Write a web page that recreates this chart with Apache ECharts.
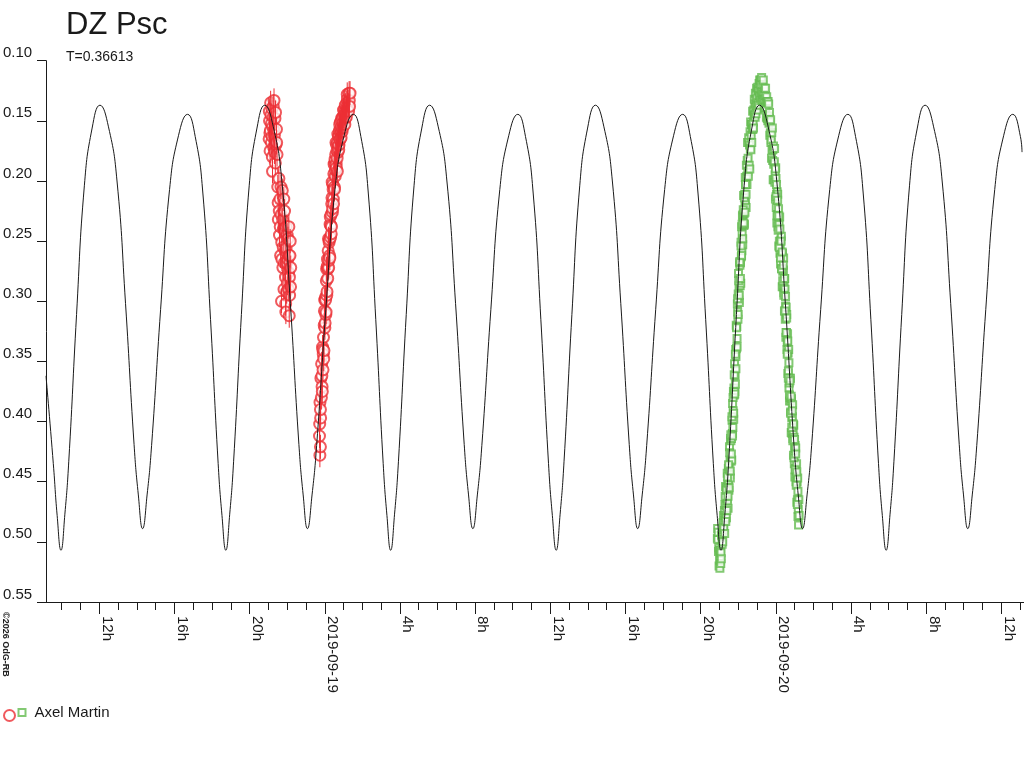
<!DOCTYPE html>
<html><head><meta charset="utf-8">
<script src="https://cdn.jsdelivr.net/npm/echarts@6/dist/echarts.min.js"></script>
<style>html,body{margin:0;padding:0;background:#fff}#c{width:1024px;height:768px}</style>
</head><body><div id="c"></div>
<script>
// hours counted from 2019-09-18 00:00
const modelCurve = [
[9.167,0.362],[9.556,0.435],[9.760,0.478],[9.964,0.507],[10.171,0.477],[10.379,0.433],[10.793,0.311],[11.208,0.204],[11.622,0.156],[12.037,0.137],
[12.491,0.155],[12.945,0.200],[13.399,0.302],[13.853,0.419],[14.080,0.461],[14.307,0.489],[14.546,0.461],[14.785,0.420],[15.264,0.307],[15.742,0.207],
[16.221,0.162],[16.699,0.1446],[17.106,0.163],[17.513,0.210],[17.921,0.315],[18.328,0.435],[18.531,0.478],[18.735,0.507],[18.942,0.477],[19.150,0.433],
[19.564,0.311],[19.979,0.204],[20.393,0.156],[20.808,0.137],[21.262,0.155],[21.716,0.200],[22.170,0.302],[22.624,0.419],[22.851,0.461],[23.078,0.489],
[23.323,0.461],[23.567,0.420],[24.056,0.307],[24.545,0.207],[25.034,0.162],[25.523,0.1446],[25.920,0.163],[26.316,0.210],[26.713,0.315],[27.109,0.435],
[27.308,0.478],[27.506,0.507],[27.713,0.477],[27.921,0.433],[28.335,0.311],[28.750,0.204],[29.164,0.156],[29.579,0.137],[30.039,0.155],[30.499,0.200],
[30.960,0.302],[31.420,0.419],[31.650,0.461],[31.880,0.489],[32.119,0.461],[32.358,0.420],[32.837,0.307],[33.315,0.207],[33.794,0.162],[34.272,0.1446],
[34.680,0.163],[35.089,0.210],[35.497,0.315],[35.906,0.435],[36.110,0.478],[36.314,0.507],[36.523,0.477],[36.732,0.433],[37.150,0.311],[37.567,0.204],
[37.985,0.156],[38.403,0.137],[38.853,0.155],[39.302,0.200],[39.752,0.302],[40.201,0.419],[40.426,0.461],[40.651,0.489],[40.890,0.461],[41.129,0.420],
[41.608,0.307],[42.086,0.207],[42.565,0.162],[43.043,0.1446],[43.451,0.163],[43.859,0.210],[44.268,0.315],[44.676,0.435],[44.880,0.478],[45.084,0.507],
[45.289,0.477],[45.494,0.433],[45.905,0.311],[46.315,0.204],[46.726,0.156],[47.136,0.137],[47.593,0.155],[48.050,0.200],[48.508,0.302],[48.965,0.419],
[49.193,0.461],[49.422,0.489],[49.663,0.461],[49.905,0.420],[50.387,0.307],[50.870,0.207],[51.352,0.162],[51.835,0.1446],[52.242,0.163],[52.649,0.210],
[53.057,0.315],[53.464,0.435],[53.667,0.478],[53.871,0.507],[54.078,0.477],[54.285,0.433],[54.700,0.311],[55.114,0.204],[55.529,0.156],[55.943,0.137],
[56.397,0.155],[56.851,0.200],[57.306,0.302],[57.760,0.419],[57.987,0.461],[58.214,0.489],[58.453,0.461],[58.692,0.420],[59.171,0.307],[59.649,0.207],
[60.128,0.162],[60.606,0.1446],[61.014,0.163],[61.100,0.176]
];

// first night (circles)
const redObs = [
[21.04,.165],[21.05,.142],[21.06,.150],[21.08,.160],[21.09,.175],[21.11,.158],[21.12,.135],[21.14,.145],[21.16,.168],[21.17,.152],
[21.19,.140],[21.20,.163],[21.21,.180],[21.22,.192],[21.23,.155],[21.25,.147],[21.26,.138],[21.28,.172],[21.29,.158],[21.30,.133],
[21.32,.162],[21.33,.176],[21.35,.148],[21.37,.185],[21.38,.143],[21.40,.170],[21.43,.157],[21.44,.168],[21.46,.178],
[21.50,.205],[21.52,.218],[21.53,.232],[21.56,.198],[21.58,.225],[21.59,.245],[21.62,.215],[21.63,.238],[21.65,.262],[21.67,.205],
[21.68,.228],[21.70,.300],[21.71,.251],[21.72,.265],[21.74,.208],[21.76,.232],[21.77,.272],[21.79,.255],[21.80,.240],[21.82,.215],
[21.83,.290],[21.85,.268],[21.86,.225],[21.88,.242],[21.89,.258],[21.91,.280],[21.92,.302],[21.93,.309],[21.94,.256],[21.95,.238],
[21.97,.292],[21.98,.268],[22.00,.245],[22.01,.285],[22.03,.265],[22.04,.248],[22.06,.290],[22.07,.276],[22.09,.238],[22.10,.262],
[22.11,.312],[22.12,.280],[22.13,.295],[22.15,.262],[22.16,.250],[22.18,.288],[22.19,.272],
[23.73,.402],[23.74,.428],[23.77,.421],[23.78,.397],
[23.720,.412],[23.745,.384],[23.770,.390],[23.795,.364],[23.820,.380],[23.8325,.352],[23.845,.362],[23.8575,.371],[23.870,.375],[23.8825,.338],
[23.895,.340],[23.9075,.357],[23.920,.344],[23.9325,.330],[23.945,.348],[23.9575,.341],[23.970,.320],[23.9825,.308],[23.995,.299],[24.0075,.322],
[24.020,.318],[24.0325,.297],[24.045,.299],[24.0575,.311],[24.070,.309],[24.0825,.283],[24.095,.273],[24.1075,.295],[24.120,.292],[24.1325,.271],
[24.145,.265],[24.1575,.281],[24.170,.273],[24.1825,.258],[24.195,.248],[24.2075,.272],[24.220,.266],[24.2325,.251],[24.245,.249],[24.2575,.262],
[24.270,.264],[24.2825,.236],[24.295,.230],[24.3075,.247],[24.320,.237],[24.3325,.228],[24.345,.244],[24.3575,.238],[24.370,.219],[24.3825,.214],
[24.395,.201],[24.4075,.226],[24.420,.223],[24.4325,.203],[24.445,.207],[24.4575,.215],[24.470,.219],[24.4825,.194],[24.495,.186],[24.5075,.205],
[24.520,.207],[24.5325,.185],[24.545,.182],[24.5575,.196],[24.570,.191],[24.5825,.178],[24.595,.168],[24.6075,.186],[24.620,.189],[24.6325,.170],
[24.645,.175],[24.6575,.181],[24.670,.192],[24.6825,.168],[24.695,.161],[24.7075,.176],[24.720,.171],[24.7325,.163],[24.745,.174],[24.7575,.170],
[24.770,.162],[24.7825,.158],[24.795,.153],[24.8075,.166],[24.820,.165],[24.8325,.151],[24.845,.157],[24.8575,.160],[24.870,.164],[24.8825,.155],
[24.895,.148],[24.9075,.150],[24.920,.159],[24.945,.147],[24.9575,.156],[24.970,.152],[24.995,.141],[25.0075,.146],[25.020,.151],[25.045,.144],
[25.0575,.140],[25.070,.153],[25.095,.137],[25.1075,.147],[25.120,.142],[25.145,.147],[25.1575,.139],[25.170,.135],[25.195,.128],[25.2075,.132],
[25.220,.141],[25.245,.134],[25.2575,.137],[25.270,.142],[25.295,.127],[25.3075,.133],[25.320,.138],[25.345,.127]
];
const redError = 0.010;

// second night (squares)
const greenObs = [
[44.89,.497],[44.905,.489],[44.92,.498],[44.935,.492],[44.95,.508],[44.965,.505],[44.98,.520],[44.995,.507],[45.01,.515],[45.025,.522],
[45.04,.515],[45.055,.507],[45.07,.518],[45.085,.509],[45.10,.514],[45.115,.495],[45.13,.494],[45.145,.502],[45.16,.492],[45.175,.500],
[45.19,.484],[45.205,.490],[45.22,.478],[45.235,.488],[45.25,.482],[45.265,.474],[45.28,.493],[45.295,.469],[45.31,.478],[45.325,.454],
[45.34,.480],[45.355,.470],[45.37,.480],[45.385,.455],[45.40,.464],[45.415,.443],[45.43,.466],[45.445,.452],[45.46,.472],[45.475,.439],
[45.49,.449],[45.505,.457],[45.52,.437],[45.535,.421],[45.55,.444],[45.565,.432],[45.58,.447],[45.595,.414],[45.61,.416],[45.625,.433],
[45.64,.414],[45.655,.432],[45.67,.399],[45.685,.410],[45.70,.385],[45.715,.405],[45.73,.391],[45.745,.375],[45.76,.398],[45.775,.372],
[45.79,.378],[45.805,.352],[45.82,.375],[45.835,.362],[45.85,.369],[45.865,.340],[45.88,.346],[45.895,.320],[45.91,.339],[45.925,.321],
[45.94,.338],[45.955,.302],[45.97,.309],[45.985,.315],[46.00,.294],[46.015,.277],[46.03,.299],[46.045,.287],[46.06,.301],[46.075,.268],
[46.09,.270],[46.105,.287],[46.12,.268],[46.135,.285],[46.15,.251],[46.165,.263],[46.18,.238],[46.195,.258],[46.21,.244],[46.225,.229],
[46.24,.253],[46.255,.228],[46.27,.236],[46.285,.212],[46.30,.237],[46.315,.227],[46.33,.236],[46.345,.211],[46.36,.221],[46.375,.197],
[46.39,.218],[46.405,.203],[46.42,.222],[46.435,.187],[46.45,.196],[46.465,.203],[46.48,.183],[46.495,.168],[46.51,.192],[46.525,.181],
[46.54,.196],[46.555,.164],[46.57,.168],[46.585,.187],[46.60,.170],[46.615,.190],[46.63,.159],[46.645,.173],[46.66,.151],[46.675,.174],
[46.69,.162],[46.705,.153],[46.72,.168],[46.735,.153],[46.75,.157],[46.765,.142],[46.78,.157],[46.795,.151],[46.81,.156],[46.825,.141],
[46.84,.146],[46.855,.132],[46.87,.145],[46.885,.136],[46.90,.147],[46.915,.127],[46.93,.139],[46.945,.144],[46.96,.132],[46.975,.123],
[46.99,.137],[47.005,.131],[47.02,.141],[47.035,.122],[47.05,.124],[47.065,.135],[47.08,.125],[47.095,.137],[47.11,.119],[47.125,.129],
[47.14,.116],[47.155,.130],[47.17,.123],[47.185,.116],[47.20,.133],[47.215,.120],[47.23,.126],[47.245,.114],[47.26,.131],[47.275,.126],
[47.29,.133],[47.305,.120],[47.32,.128],[47.335,.116],[47.35,.132],[47.365,.126],[47.38,.140],[47.395,.123],[47.41,.132],[47.425,.139],
[47.44,.129],[47.455,.123],[47.47,.139],[47.485,.135],[47.50,.147],[47.515,.130],[47.53,.134],[47.545,.148],[47.56,.135],[47.575,.150],
[47.59,.134],[47.605,.146],[47.62,.136],[47.635,.152],[47.65,.148],[47.665,.143],[47.68,.162],[47.695,.151],[47.71,.160],[47.725,.149],
[47.74,.168],[47.755,.166],[47.77,.181],[47.785,.160],[47.80,.174],[47.815,.156],[47.83,.183],[47.845,.174],[47.86,.199],[47.875,.171],
[47.89,.186],[47.905,.199],[47.92,.184],[47.935,.173],[47.95,.201],[47.965,.195],[47.98,.215],[47.995,.189],[48.01,.198],[48.025,.222],
[48.04,.211],[48.055,.235],[48.07,.209],[48.085,.228],[48.10,.211],[48.115,.238],[48.13,.231],[48.145,.223],[48.16,.254],[48.175,.236],
[48.19,.250],[48.205,.230],[48.22,.260],[48.235,.255],[48.25,.269],[48.265,.249],[48.28,.263],[48.295,.246],[48.31,.273],[48.325,.263],
[48.34,.288],[48.355,.260],[48.37,.275],[48.385,.288],[48.40,.274],[48.415,.264],[48.43,.293],[48.445,.287],[48.46,.308],[48.475,.281],
[48.49,.290],[48.505,.315],[48.52,.304],[48.535,.330],[48.55,.305],[48.565,.326],[48.58,.311],[48.595,.340],[48.61,.334],[48.625,.327],
[48.64,.360],[48.655,.343],[48.67,.358],[48.685,.340],[48.70,.372],[48.715,.368],[48.73,.383],[48.745,.364],[48.76,.380],[48.775,.364],
[48.79,.392],[48.805,.383],[48.82,.409],[48.835,.381],[48.85,.397],[48.865,.410],[48.88,.396],[48.895,.386],[48.91,.414],[48.925,.408],
[48.94,.428],[48.955,.403],[48.97,.413],[48.985,.435],[49.00,.422],[49.015,.446],[49.03,.420],[49.045,.439],[49.06,.422],[49.075,.450],
[49.09,.443],[49.105,.435],[49.12,.467],[49.135,.450],[49.15,.465],[49.165,.447],[49.18,.479],[49.195,.473],[49.21,.486],[49.225,.465],
[49.24,.478],
[45.3075,.462],[45.3375,.483],[45.3675,.457],[45.3975,.474],[45.4275,.446],[45.4575,.462],[45.4875,.436],[45.5175,.455],[45.5475,.426],[45.5775,.441],
[45.6075,.411],[45.6375,.427],[45.6675,.396],[45.6975,.412],[45.7275,.380],[45.7575,.393],[45.7875,.361],[45.8175,.377],[45.8475,.344],[45.8775,.356],
[45.9075,.322],[45.9375,.331],[45.9675,.298],[45.9975,.311],[46.0275,.283],[46.0575,.295],[46.0875,.267],[46.1175,.281],[46.1475,.254],[46.1775,.262],
[46.2075,.236],[46.2375,.248],[46.2675,.224],[46.2975,.235],[46.3275,.214],[46.3575,.226],[46.3875,.203],[46.4175,.211],
[47.9775,.190],[48.0075,.213],[48.0375,.203],[48.0675,.229],[48.0975,.216],[48.1275,.241],[48.1575,.229],[48.1875,.255],[48.2175,.240],[48.2475,.264],
[48.2775,.250],[48.3075,.273],[48.3375,.259],[48.3675,.283],[48.3975,.270],[48.4275,.295],[48.4575,.281],[48.4875,.308],[48.5175,.296],[48.5475,.326],
[48.5775,.314],[48.6075,.344],[48.6375,.333],[48.6675,.364],[48.6975,.351],[48.7275,.378],[48.7575,.366],[48.7875,.393],[48.8175,.379],[48.8475,.405],
[48.8775,.391],[48.9075,.416],[48.9375,.402],[48.9675,.430],[48.9975,.415],[49.0275,.440],[49.0575,.427],[49.0875,.453],[49.1175,.442],[49.1475,.469],
[49.1775,.458]
];

const majorTicks = [12,16,20,24,28,32,36,40,44,48,52,56,60];
const majorLabels = ['12h','16h','20h','2019-09-19','4h','8h','12h','16h','20h','2019-09-20','4h','8h','12h'];
const minorTicks = [10,11,12,13,14,15,16,17,18,19,20,21,22,23,24,25,26,27,28,29,30,31,32,33,34,35,36,37,38,39,40,41,42,43,44,45,46,47,48,49,50,51,52,53,54,55,56,57,58,59,60,61];
const xMin = 9.167, xMax = 61.206;
const yMin = 0.10, yMax = 0.55, yStep = 0.05;

const FONT = '"Liberation Sans", Arial, sans-serif';
const RED = '#ec2f35', GREEN = '#64bb50', INK = '#1a1a1a';

const chart = echarts.init(document.getElementById('c'), null, {renderer:'canvas'});
chart.setOption({
  animation: false,
  backgroundColor: '#fff',
  textStyle: {fontFamily: FONT},
  title: [
    {text: 'DZ Psc', left: 66, top: 10, padding: 0, textStyle: {fontSize: 31, fontWeight: 'normal', color: INK, fontFamily: FONT}},
    {text: 'T=0.36613', left: 66, top: 50, padding: 0, textStyle: {fontSize: 14, fontWeight: 'normal', color: INK, fontFamily: FONT}}
  ],
  grid: {left: 45, right: 0, top: 60.7, bottom: 166, containLabel: false},
  xAxis: [
    {type: 'value', min: xMin, max: xMax, position: 'bottom',
     axisLine: {show: true, lineStyle: {color: INK, width: 1}},
     axisTick: {show: true, length: 12, customValues: majorTicks, lineStyle: {color: INK, width: 1}},
     axisLabel: {show: true, customValues: majorTicks, rotate: -90, margin: 14, verticalAlign: 'bottom',
       fontSize: 15, color: INK, fontFamily: FONT,
       formatter: function (v) {
         let best = 0;
         for (let i = 0; i < majorTicks.length; i++) if (Math.abs(majorTicks[i] - v) < Math.abs(majorTicks[best] - v)) best = i;
         return majorLabels[best];
       }},
     splitLine: {show: false}},
    {type: 'value', min: xMin, max: xMax, position: 'bottom', offset: 0,
     axisLine: {show: false},
     axisTick: {show: true, length: 8, customValues: minorTicks, lineStyle: {color: INK, width: 1}},
     axisLabel: {show: false},
     splitLine: {show: false}}
  ],
  yAxis: {type: 'value', inverse: true, min: yMin, max: yMax, interval: yStep,
    axisLine: {show: true, lineStyle: {color: INK, width: 1}},
    axisTick: {show: true, length: 9, lineStyle: {color: INK, width: 1}},
    axisLabel: {formatter: v => v.toFixed(2), align: 'left', verticalAlign: 'bottom', margin: 43,
      fontSize: 15, color: INK, fontFamily: FONT, showMinLabel: true, showMaxLabel: true},
    splitLine: {show: false}},
  legend: [
    {left: 3, top: 709, padding: 0, itemWidth: 11, itemHeight: 11, selectedMode: false,
     data: [{name: 'Axel Martin (V)', icon: 'emptyCircle'}], formatter: () => '',
     textStyle: {fontSize: 1}},
    {left: 17.5, top: 705, padding: 0, itemWidth: 7, itemHeight: 7, selectedMode: false,
     data: [{name: 'Axel Martin', icon: 'emptyRect'}],
     textStyle: {fontSize: 15, color: INK, fontFamily: FONT, padding: [0, 0, 0, 4]}}
  ],
  graphic: [
    {type: 'text', x: 1, y: 612, rotation: -Math.PI / 2,
     style: {text: '\u00a92026 OdG-RB', fontSize: 9, fontWeight: 'bold', fill: '#222', fontFamily: FONT,
       align: 'left', verticalAlign: 'bottom'}}
  ],
  series: [
    {name: 'Axel Martin (V)', type: 'scatter', data: redObs, symbol: 'emptyCircle', symbolSize: 11, z: 2,
     itemStyle: {color: RED, borderColor: RED, borderWidth: 1}},
    {name: 'redErr', type: 'custom', data: redObs, z: 3, silent: true, clip: true,
     renderItem: function (params, api) {
       const t = api.value(0), v = api.value(1);
       const a = api.coord([t, v - redError]), b = api.coord([t, v + redError]);
       return {type: 'line', shape: {x1: a[0], y1: a[1], x2: b[0], y2: b[1]}, style: {stroke: RED, lineWidth: 1}};
     }},
    {name: 'Axel Martin', type: 'scatter', data: greenObs, symbol: 'emptyRect', symbolSize: 7, z: 2,
     itemStyle: {color: GREEN, borderColor: GREEN, borderWidth: 1.2}},
    {name: 'model', type: 'line', data: modelCurve, smooth: true, showSymbol: false, z: 5, silent: true,
     lineStyle: {color: INK, width: 1}}
  ]
});
</script></body></html>
